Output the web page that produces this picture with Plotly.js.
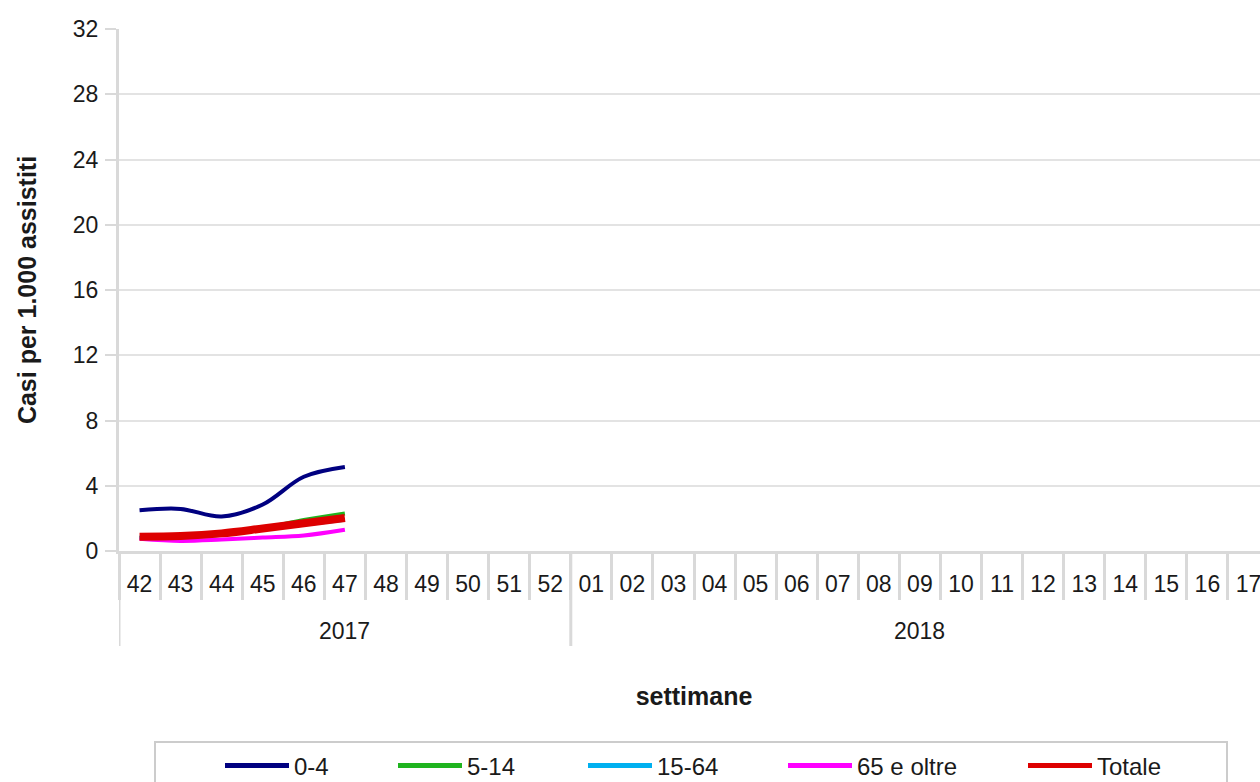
<!DOCTYPE html>
<html>
<head>
<meta charset="utf-8">
<script src="https://cdn.plot.ly/plotly-3.0.1.min.js"></script>
<style>
html,body{margin:0;padding:0;background:#fff;overflow:hidden;}
#chart{width:1300px;height:800px;}
</style>
</head>
<body>
<div id="chart"></div>
<script>
// Categories: season weeks (two-level axis: year / week)
const years = ['2017','2017','2017','2017','2017','2017','2017','2017','2017','2017','2017',
  '2018','2018','2018','2018','2018','2018','2018','2018','2018','2018','2018','2018','2018','2018','2018','2018','2018'];
const weeks = ['42','43','44','45','46','47','48','49','50','51','52',
  '01','02','03','04','05','06','07','08','09','10','11','12','13','14','15','16','17'];

// Weeks with data so far
const dataWeeks = ['42','43','44','45','46','47'];

// Series: cases per 1,000 assisted
const s0_4     = [2.50, 2.58, 2.12, 2.85, 4.55, 5.15];
const s5_14    = [0.80, 0.85, 1.00, 1.40, 1.90, 2.30];
const s15_64   = [0.82, 0.88, 1.02, 1.32, 1.62, 1.92];
const s65      = [0.75, 0.62, 0.70, 0.82, 0.95, 1.30];
const sTotale  = [0.88, 0.92, 1.08, 1.38, 1.70, 2.02];

const yTicks = [0,4,8,12,16,20,24,28,32];

const seriesNames = ['0-4','5-14','15-64','65 e oltre','Totale'];
const seriesVals = [s0_4, s5_14, s15_64, s65, sTotale];
const seriesColors = ['#000080','#1fb41f','#00b0f0','#ff00ff','#dd0000'];
const seriesWidths = [4, 4, 4, 4, 8];

// legend entry left positions (px) as in the original layout
const legendLeftPx = [220, 393, 583, 783, 1023];

const font = 'Liberation Sans, Arial, sans-serif';
const W = 1300, H = 800;
const M = {l: 119, r: 31, t: 29, b: 249};
const plotW = W - M.l - M.r, plotH = H - M.t - M.b;
const pxToPaperX = px => (px - M.l) / plotW;
const pxToPaperY = py => (H - M.b - py) / plotH;

const traces = [];
seriesNames.forEach((n, i) => {
  traces.push({
    x: dataWeeks,
    y: seriesVals[i],
    name: n,
    type: 'scatter',
    mode: 'lines',
    legend: i === 0 ? 'legend' : 'legend' + (i + 1),
    line: {color: seriesColors[i], width: seriesWidths[i], shape: 'spline', smoothing: 1}
  });
});

// year group labels and dividers, derived from the years array
const groups = [];
years.forEach((y, i) => {
  const g = groups.length ? groups[groups.length - 1] : null;
  if (g && g.year === y) g.last = i; else groups.push({year: y, first: i, last: i});
});
const annotations = groups.map(g => ({
  x: (g.first + g.last) / 2, xref: 'x',
  y: pxToPaperY(631), yref: 'paper', yanchor: 'middle',
  text: g.year, showarrow: false,
  font: {family: font, size: 23, color: '#1a1a1a'}
}));
const shapes = [];
groups.forEach(g => {
  shapes.push({type: 'line', xref: 'x', yref: 'paper', x0: g.first - 0.5, x1: g.first - 0.5,
    y0: 0, y1: pxToPaperY(646), line: {color: '#d9d9d9', width: 3}});
});
const lastG = groups[groups.length - 1];
shapes.push({type: 'line', xref: 'x', yref: 'paper', x0: lastG.last + 0.5, x1: lastG.last + 0.5,
  y0: 0, y1: pxToPaperY(646), line: {color: '#d9d9d9', width: 3}});
// legend frame
shapes.push({type: 'rect', xref: 'paper', yref: 'paper',
  x0: pxToPaperX(155), x1: pxToPaperX(1227), y0: pxToPaperY(742), y1: pxToPaperY(798),
  line: {color: '#cccccc', width: 2}, fillcolor: 'rgba(0,0,0,0)', layer: 'below'});

const layout = {
  width: W, height: H,
  margin: M,
  paper_bgcolor: '#ffffff', plot_bgcolor: '#ffffff',
  font: {family: font, size: 23, color: '#1a1a1a'},
  xaxis: {
    type: 'category',
    categoryorder: 'array', categoryarray: weeks,
    tickvals: weeks, ticktext: weeks,
    range: [-0.5, weeks.length - 0.5],
    showline: true, linecolor: '#d9d9d9', linewidth: 3,
    ticks: 'outside', tickson: 'boundaries', ticklen: 46, tickcolor: '#d9d9d9', tickwidth: 3,
    ticklabelstandoff: 10,
    showgrid: false,
    tickfont: {family: font, size: 23, color: '#1a1a1a'},
    title: {text: '<b>settimane</b>', font: {family: font, size: 25, color: '#1a1a1a'}, standoff: 92},
    fixedrange: true
  },
  yaxis: {
    range: [0, 32],
    tickvals: yTicks,
    showline: true, linecolor: '#d9d9d9', linewidth: 3,
    ticks: 'outside', ticklen: 11, tickcolor: '#d9d9d9', tickwidth: 2,
    ticklabelstandoff: 2,
    showgrid: true, gridcolor: '#e3e3e3', gridwidth: 2,
    zeroline: false,
    tickfont: {family: font, size: 23, color: '#1a1a1a'},
    title: {text: '<b>Casi per 1.000 assistiti</b>', font: {family: font, size: 25, color: '#1a1a1a'}, standoff: 30},
    fixedrange: true
  },
  annotations: annotations,
  shapes: shapes,
  showlegend: true
};
seriesNames.forEach((n, i) => {
  const key = i === 0 ? 'legend' : 'legend' + (i + 1);
  layout[key] = {
    orientation: 'h',
    x: pxToPaperX(legendLeftPx[i]), xanchor: 'left',
    y: pxToPaperY(766), yanchor: 'middle',
    font: {family: font, size: 24, color: '#1a1a1a'},
    bgcolor: 'rgba(0,0,0,0)', borderwidth: 0,
    itemsizing: 'constant', itemwidth: 64
  };
});

Plotly.newPlot('chart', traces, layout, {displayModeBar: false, staticPlot: true});
</script>
</body>
</html>
